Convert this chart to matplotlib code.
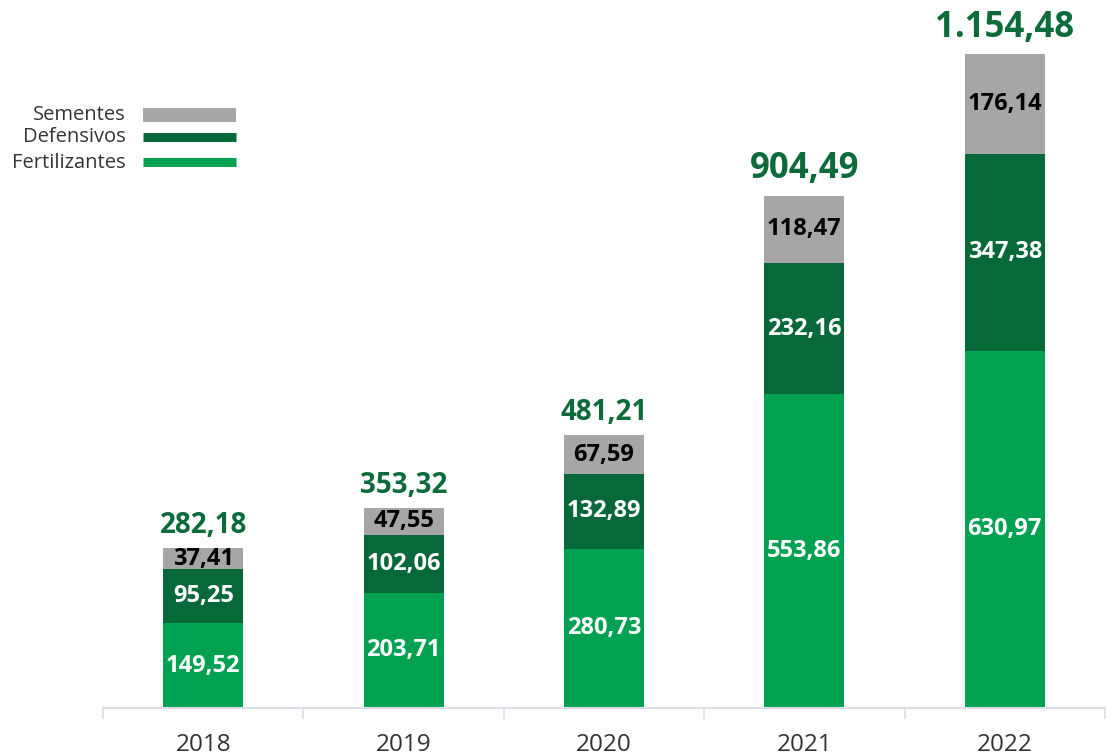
import matplotlib
matplotlib.use('Agg')
import matplotlib.pyplot as plt
from matplotlib.lines import Line2D
import numpy as np

plt.rcParams['font.family'] = ['Open Sans', 'DejaVu Sans']

years = ['2018', '2019', '2020', '2021', '2022']
fertilizantes = [149.52, 203.71, 280.73, 553.86, 630.97]
defensivos = [95.25, 102.06, 132.89, 232.16, 347.38]
sementes = [37.41, 47.55, 67.59, 118.47, 176.14]
totais = [282.18, 353.32, 481.21, 904.49, 1154.48]

c_fert = '#00A151'
c_def = '#07693A'
c_sem = '#A6A6A6'
c_tot = '#0B6B3A'


def br(v):
    # formato brasileiro: 1.154,48
    s = '{:,.2f}'.format(v)
    return s.replace(',', 'X').replace('.', ',').replace('X', '.')


fig = plt.figure(figsize=(11.06, 7.56), dpi=100)
ax = fig.add_axes([103 / 1106, 48 / 756, 1002 / 1106, 708 / 756])

x = np.arange(len(years))
w = 0.4
fert = np.array(fertilizantes)
dfn = np.array(defensivos)
sem = np.array(sementes)

ax.bar(x, fert, w, color=c_fert)
ax.bar(x, dfn, w, bottom=fert, color=c_def)
ax.bar(x, sem, w, bottom=fert + dfn, color=c_sem)

for i in range(len(years)):
    ax.text(x[i], fert[i] / 2, br(fert[i]), ha='center', va='center',
            color='white', fontsize=17, fontweight='bold')
    ax.text(x[i], fert[i] + dfn[i] / 2, br(dfn[i]), ha='center', va='center',
            color='white', fontsize=17, fontweight='bold')
    ax.text(x[i], fert[i] + dfn[i] + sem[i] / 2, br(sem[i]), ha='center',
            va='center', color='black', fontsize=17, fontweight='bold')
    fs = 25 if totais[i] > 800 else 20
    ax.annotate(br(totais[i]), (x[i], fert[i] + dfn[i] + sem[i]),
                xytext=(0, 6), textcoords='offset points', ha='center',
                va='bottom', color=c_tot, fontsize=fs, fontweight='bold')

ax.set_xlim(-0.5, len(years) - 0.5)
ax.set_ylim(0, 1250)
ax.set_yticks([])
ax.set_xticks(x)
ax.set_xticklabels(years, fontsize=17.5, color='#333333')
ax.set_xticks(np.arange(-0.5, len(years)), minor=True)
ax.tick_params(axis='x', which='major', length=0, pad=18)
ax.tick_params(axis='x', which='minor', length=8, width=1.2, color='#D9DEE6')
for s in ['top', 'right', 'left']:
    ax.spines[s].set_visible(False)
ax.spines['bottom'].set_color('#D9DEE6')
ax.spines['bottom'].set_linewidth(1.5)

# legenda manual
leg = [('Sementes', c_sem, 115, 10), ('Defensivos', c_def, 137, 6.5),
       ('Fertilizantes', c_fert, 162, 6.5)]
for nome, cor, ypx, lw in leg:
    yf = 1 - ypx / 756
    fig.lines.append(Line2D([143 / 1106, 236 / 1106], [yf, yf], color=cor,
                            lw=lw, solid_capstyle='butt',
                            transform=fig.transFigure))
    fig.text(126 / 1106, 1 - (ypx + 0.5) / 756, nome, ha='right', va='center',
             fontsize=14.5, color='#333333')

fig.savefig('out.png', dpi=100)
